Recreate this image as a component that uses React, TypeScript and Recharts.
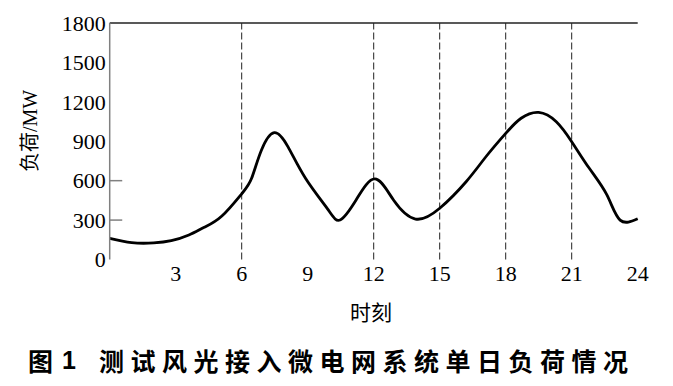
import React from 'react';
import { LineChart, Line, XAxis, YAxis, ReferenceLine } from 'recharts';

const hours = [0, 1, 2, 2.8, 3.6, 4.3, 5.1, 6, 6.45, 6.9, 7.48, 8.1, 8.9, 9.9, 10.47, 11.2, 12.05, 12.9, 13.9, 15, 16.2, 17.1, 18, 18.7, 19.5, 20.3, 21, 21.8, 22.6, 23.2, 24];
const load = [161, 128, 126, 143, 186, 245, 331, 500, 618, 833, 965, 859, 618, 385, 300, 453, 613, 453, 308, 390, 592, 782, 960, 1075, 1120, 1049, 897, 694, 491, 300, 310];

const xTicks = [3, 6, 9, 12, 15, 18, 21, 24];
const yTicks = [0, 300, 600, 900, 1200, 1500, 1800];
const dashedHours = [6, 12, 15, 18, 21];
const innerTickValues = [300, 600];

const data = hours.map((h, i) => ({ h, v: load[i] }));

const serif = 'Liberation Serif, Tinos, DejaVu Serif, serif';
const tickFont = { fill: '#000', fontSize: 22, fontFamily: serif };

export default function App() {
  return (
    <div style={{ position: 'absolute', left: 0, top: 0, width: 673, height: 386, background: '#fff', overflow: 'hidden' }}>
      <LineChart width={673} height={300} data={data} margin={{ top: 23, right: 35.3, left: 49.7, bottom: 10.5 }}>
        <XAxis
          dataKey="h"
          type="number"
          domain={[0, 24]}
          ticks={xTicks}
          interval={0}
          axisLine={false}
          tickLine={false}
          tickSize={6}
          tickMargin={0}
          height={30}
          tick={tickFont}
        />
        <YAxis
          type="number"
          domain={[0, 1800]}
          ticks={yTicks}
          interval={0}
          width={60}
          axisLine={{ stroke: '#808080', strokeWidth: 1.5 }}
          tickLine={false}
          tickSize={2}
          tickMargin={2}
          tick={tickFont}
        />
        <ReferenceLine y={1800} stroke="#222" strokeWidth={1.5} />
        {dashedHours.map((h) => (
          <ReferenceLine key={h} x={h} stroke="#222" strokeWidth={1} strokeDasharray="7 3" />
        ))}
        {innerTickValues.map((v) => (
          <ReferenceLine key={'t' + v} segment={[{ x: 0, y: v }, { x: 0.57, y: v }]} stroke="#808080" strokeWidth={1.5} />
        ))}
        <Line
          type="natural"
          dataKey="v"
          stroke="#000"
          strokeWidth={2.8}
          dot={false}
          activeDot={false}
          isAnimationActive={false}
        />
      </LineChart>
      <div
        style={{
          position: 'absolute',
          left: -20,
          top: 119,
          width: 100,
          height: 24,
          lineHeight: '24px',
          textAlign: 'center',
          transform: 'rotate(-90deg)',
          fontSize: 20,
          fontFamily: 'Liberation Serif, Tinos, DejaVu Serif, Noto Sans CJK SC, serif',
          color: '#000',
          whiteSpace: 'nowrap',
        }}
      >
        负荷/MW
      </div>
      <div
        style={{
          position: 'absolute',
          left: 321,
          top: 299,
          width: 100,
          height: 24,
          lineHeight: '24px',
          textAlign: 'center',
          fontSize: 21,
          fontFamily: 'Noto Sans CJK SC, sans-serif',
          color: '#000',
          whiteSpace: 'nowrap',
        }}
      >
        时刻
      </div>
      <div
        style={{
          position: 'absolute',
          left: 28,
          top: 345,
          height: 30,
          lineHeight: '30px',
          fontSize: 25,
          fontWeight: 700,
          fontFamily: 'Noto Sans CJK SC, sans-serif',
          color: '#000',
          whiteSpace: 'nowrap',
        }}
      >
        <span>图</span>
        <span style={{ position: 'absolute', left: 34, fontFamily: 'Liberation Sans, Arial, sans-serif' }}>1</span>
        <span style={{ position: 'absolute', left: 71, letterSpacing: 6.5 }}>测试风光接入微电网系统单日负荷情况</span>
      </div>
    </div>
  );
}
